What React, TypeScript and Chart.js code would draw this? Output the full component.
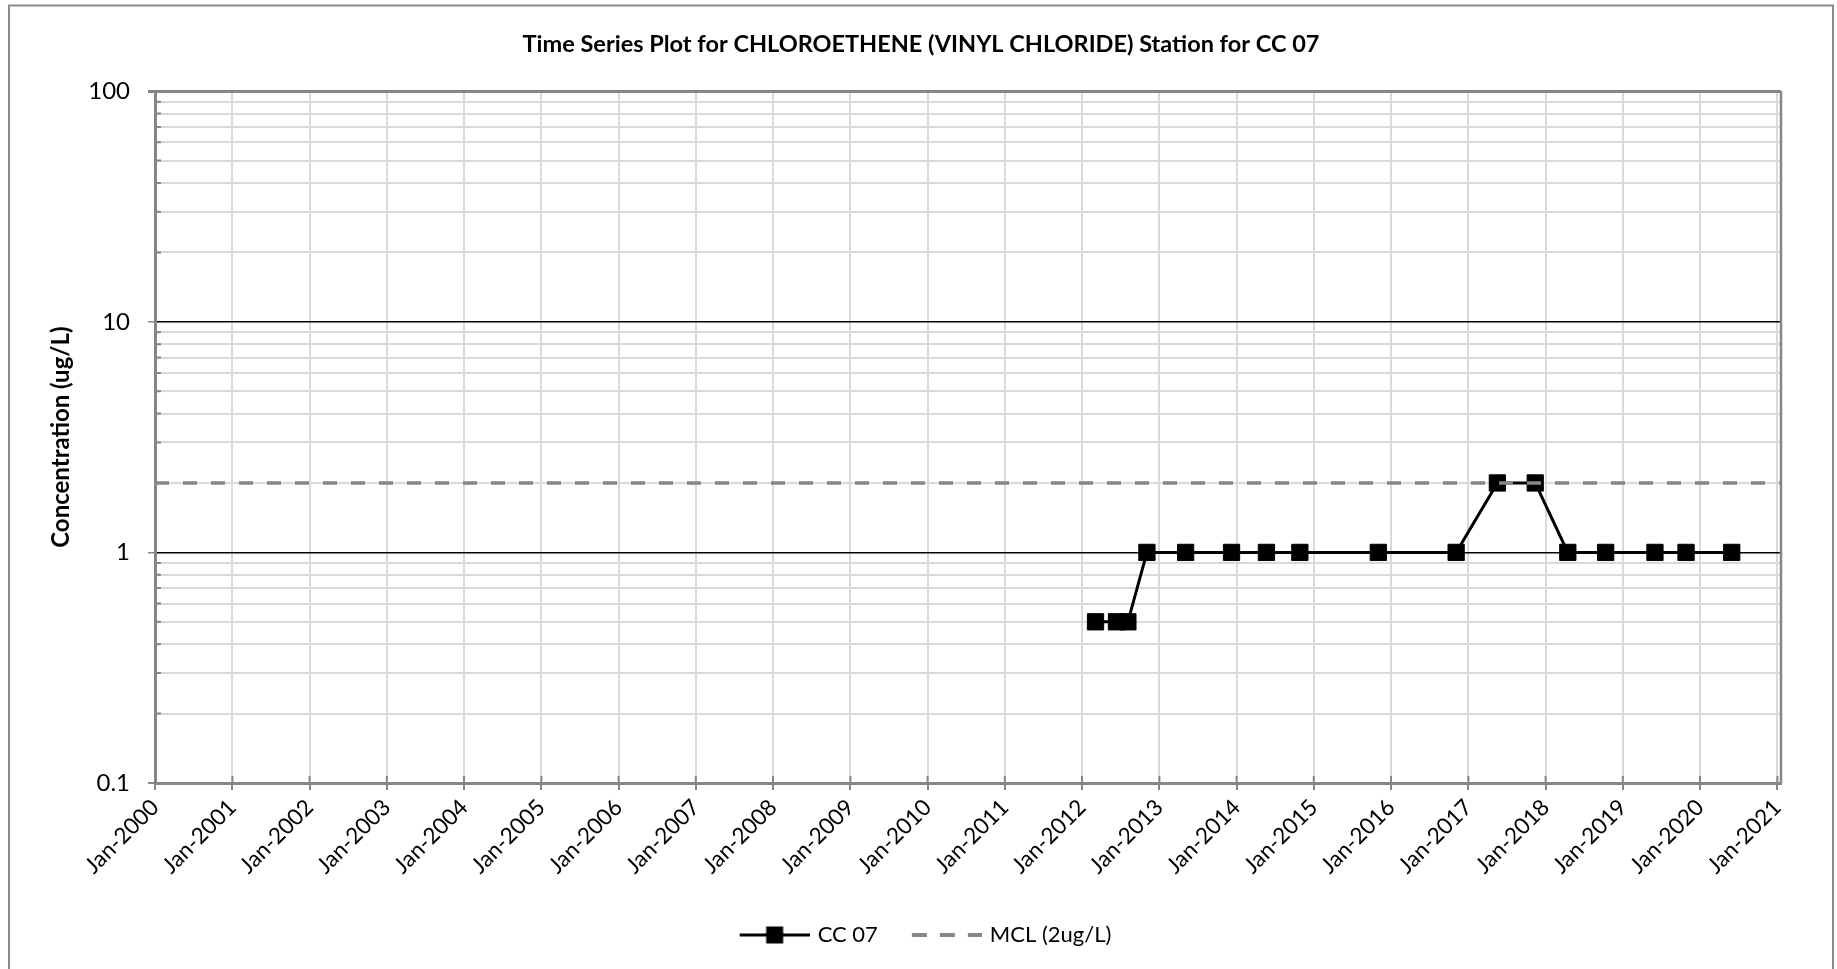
import React, { useEffect, useRef } from 'react';
import { Chart, registerables } from 'chart.js';

Chart.register(...registerables);

const TITLE = 'Time Series Plot for CHLOROETHENE (VINYL CHLORIDE) Station for CC 07';
const Y_TITLE = 'Concentration (ug/L)';
const SERIES_NAME = 'CC 07';
const MCL_NAME = 'MCL (2ug/L)';

const sampleDates = [
  '2012-03-05', '2012-06-12', '2012-08-05', '2012-11-03',
  '2013-05-05', '2013-12-08', '2014-05-22', '2014-10-27',
  '2015-11-02', '2016-11-04', '2017-05-18', '2017-11-13',
  '2018-04-16', '2018-10-12', '2019-06-02', '2019-10-27', '2020-05-30',
];
const concentrations = [
  0.5, 0.5, 0.5, 1,
  1, 1, 1, 1,
  1, 1, 2, 2,
  1, 1, 1, 1, 1,
];
const MCL_VALUE = 2;

const yearTicks = [
  2000, 2001, 2002, 2003, 2004, 2005, 2006, 2007, 2008, 2009, 2010,
  2011, 2012, 2013, 2014, 2015, 2016, 2017, 2018, 2019, 2020, 2021,
];
const yTickValues = [
  0.1, 0.2, 0.3, 0.4, 0.5, 0.6, 0.7, 0.8, 0.9,
  1, 2, 3, 4, 5, 6, 7, 8, 9,
  10, 20, 30, 40, 50, 60, 70, 80, 90, 100,
];
const yLabelValues = [0.1, 1, 10, 100];
const yBlackLines = [1, 10];

const FONT = 'Lato, "Open Sans", "DejaVu Sans", sans-serif';
const AXIS_GRAY = '#868686';
const GRID_GRAY = '#d9d9d9';

const toMs = (s: string) => {
  const [y, m, d] = s.split('-').map(Number);
  return Date.UTC(y, m - 1, d);
};

const isLabelValue = (v: number) => yLabelValues.some((l) => Math.abs(l - v) < 1e-9);
const isBlackValue = (v: number) => yBlackLines.some((l) => Math.abs(l - v) < 1e-9);

function makeSymbol(kind: 'line' | 'dash'): HTMLCanvasElement {
  const c = document.createElement('canvas');
  c.width = 82;
  c.height = 22;
  const g = c.getContext('2d')!;
  const x0 = 12;
  const cy = 11;
  if (kind === 'line') {
    g.strokeStyle = '#000';
    g.lineWidth = 3;
    g.beginPath();
    g.moveTo(x0, cy);
    g.lineTo(82, cy);
    g.stroke();
    g.fillStyle = '#000';
    g.fillRect(x0 + 35 - 8.5, cy - 8.5, 17, 17);
  } else {
    g.strokeStyle = AXIS_GRAY;
    g.lineWidth = 4;
    g.setLineDash([15, 13]);
    g.beginPath();
    g.moveTo(x0, cy);
    g.lineTo(82, cy);
    g.stroke();
  }
  return c;
}

const decorPlugin = {
  id: 'excelDecor',
  beforeDraw(chart: any) {
    const { ctx } = chart;
    ctx.save();
    ctx.fillStyle = '#fff';
    ctx.fillRect(0, 0, chart.width, chart.height);
    ctx.strokeStyle = '#8c8c8c';
    ctx.lineWidth = 2;
    ctx.strokeRect(9, 5.5, 1824, 1000);
    ctx.restore();
  },
  beforeDatasetsDraw(chart: any) {
    const { ctx, chartArea: a, scales } = chart;
    const x = scales.x;
    const y = scales.y;
    ctx.save();
    ctx.strokeStyle = AXIS_GRAY;
    ctx.lineWidth = 2.5;
    ctx.beginPath();
    ctx.moveTo(a.right, a.top);
    ctx.lineTo(a.right, a.bottom);
    ctx.stroke();
    ctx.lineWidth = 2;
    ctx.beginPath();
    for (const v of yTickValues) {
      if (isLabelValue(v)) continue;
      const py = y.getPixelForValue(v);
      ctx.moveTo(a.left, py);
      ctx.lineTo(a.left + 6, py);
    }
    for (const yr of yearTicks) {
      const px = x.getPixelForValue(Date.UTC(yr, 0, 1));
      ctx.moveTo(px, a.bottom);
      ctx.lineTo(px, a.bottom - 7);
    }
    ctx.stroke();
    ctx.restore();
  },
};

export default function App() {
  const ref = useRef<HTMLCanvasElement | null>(null);

  useEffect(() => {
    if (!ref.current) return;
    Chart.defaults.font.family = FONT;
    Chart.defaults.color = '#000';
    const symCC = makeSymbol('line');
    const symMCL = makeSymbol('dash');
    const xMin = Date.UTC(2000, 0, 1);
    const xMax = Date.UTC(2021, 0, 18);

    const chart = new Chart(ref.current, {
      type: 'line',
      data: {
        datasets: [
          {
            label: SERIES_NAME,
            data: sampleDates.map((d, i) => ({ x: toMs(d), y: concentrations[i] })),
            borderColor: '#000',
            backgroundColor: '#000',
            borderWidth: 3,
            pointStyle: 'rect',
            pointRadius: 11.5,
            pointHoverRadius: 11.5,
            pointBorderWidth: 1,
            pointBackgroundColor: '#000',
            pointBorderColor: '#000',
            tension: 0,
            order: 1,
          },
          {
            label: MCL_NAME,
            data: [
              { x: xMin, y: MCL_VALUE },
              { x: xMax, y: MCL_VALUE },
            ],
            borderColor: AXIS_GRAY,
            borderWidth: 3.5,
            borderDash: [14, 14],
            pointRadius: 0,
            pointHoverRadius: 0,
            order: 0,
          },
        ],
      },
      options: {
        responsive: false,
        animation: false,
        events: [],
        layout: { padding: { left: 61, right: 56, top: 0, bottom: 13 } },
        plugins: {
          tooltip: { enabled: false },
          title: {
            display: true,
            text: TITLE,
            color: '#000',
            font: { family: FONT, size: 23.5, weight: 'bold' },
            padding: { top: 30, bottom: 33 },
          },
          legend: {
            position: 'bottom',
            onClick: () => {},
            labels: {
              usePointStyle: true,
              pointStyleWidth: 76,
              padding: 25,
              color: '#000',
              font: { family: FONT, size: 22 },
              generateLabels: () => [
                {
                  text: SERIES_NAME,
                  pointStyle: symCC as any,
                  fillStyle: '#000',
                  strokeStyle: '#000',
                  lineWidth: 0,
                  hidden: false,
                  datasetIndex: 0,
                },
                {
                  text: MCL_NAME,
                  pointStyle: symMCL as any,
                  fillStyle: AXIS_GRAY,
                  strokeStyle: AXIS_GRAY,
                  lineWidth: 0,
                  hidden: false,
                  datasetIndex: 1,
                },
              ],
            },
          },
        },
        scales: {
          x: {
            type: 'linear',
            min: xMin,
            max: xMax,
            afterBuildTicks: (scale: any) => {
              scale.ticks = yearTicks.map((yr) => ({ value: Date.UTC(yr, 0, 1) }));
            },
            afterFit: (scale: any) => {
              scale.height = 116;
            },
            ticks: {
              autoSkip: false,
              maxRotation: 45,
              minRotation: 45,
              padding: 4,
              color: '#000',
              font: { family: FONT, size: 22.5 },
              callback: (v: any) => 'Jan-' + new Date(Number(v)).getUTCFullYear(),
            },
            grid: {
              color: GRID_GRAY,
              lineWidth: 2,
              tickColor: AXIS_GRAY,
              tickLength: 7,
            },
            border: { color: AXIS_GRAY, width: 3 },
          },
          y: {
            type: 'logarithmic',
            min: 0.1,
            max: 100,
            afterBuildTicks: (scale: any) => {
              scale.ticks = yTickValues.map((v) => ({ value: v }));
            },
            afterFit: (scale: any) => {
              scale.width = 94;
            },
            ticks: {
              autoSkip: false,
              padding: 18,
              color: '#000',
              font: { family: FONT, size: 24 },
              callback: (v: any) => (isLabelValue(Number(v)) ? String(Number(v)) : ''),
            },
            grid: {
              color: (c: any) => {
                const v = c.tick ? c.tick.value : 0;
                if (Math.abs(v - 100) < 1e-9) return AXIS_GRAY;
                if (isBlackValue(v)) return '#000';
                return GRID_GRAY;
              },
              lineWidth: (c: any) => {
                const v = c.tick ? c.tick.value : 0;
                if (Math.abs(v - 100) < 1e-9) return 3;
                if (isBlackValue(v)) return 1.5;
                return 2;
              },
              tickColor: (c: any) => {
                const v = c.tick ? c.tick.value : 0;
                return isLabelValue(v) ? AXIS_GRAY : 'rgba(0,0,0,0)';
              },
              tickLength: 7,
            },
            border: { color: AXIS_GRAY, width: 3 },
            title: {
              display: true,
              text: Y_TITLE,
              color: '#000',
              font: { family: FONT, size: 24, weight: 'bold' },
              padding: { top: -14.4, bottom: 0 },
            },
          },
        },
      },
      plugins: [decorPlugin],
    } as any);

    return () => chart.destroy();
  }, []);

  return (
    <div style={{ position: 'fixed', left: 0, top: 0, width: 1837, height: 969, overflow: 'hidden', background: '#fff' }}>
      <canvas ref={ref} width={1837} height={969} style={{ width: 1837, height: 969, display: 'block' }} />
    </div>
  );
}
